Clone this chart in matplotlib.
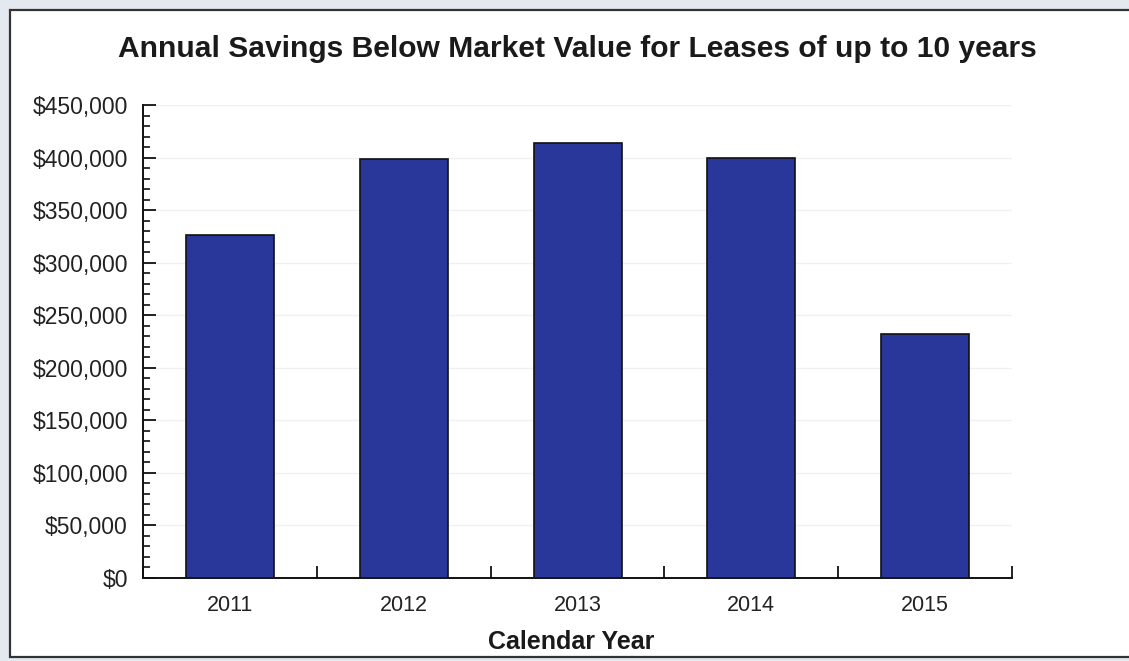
import matplotlib
matplotlib.use("Agg")
import matplotlib.pyplot as plt
from matplotlib.patches import Rectangle
from matplotlib.ticker import MultipleLocator, FuncFormatter

plt.rcParams['font.family'] = ['Liberation Sans', 'DejaVu Sans']

# Données
years = ['2011', '2012', '2013', '2014', '2015']
savings = [326000, 399000, 414000, 400000, 232000]

fig = plt.figure(figsize=(11.29, 6.61), dpi=100)
fig.patch.set_facecolor('#e4e9f0')

# cadre blanc autour du graphique
frame = Rectangle((0.009, 0.006), 1.0, 0.979, transform=fig.transFigure,
                  facecolor='white', edgecolor='#333333', lw=1.6, zorder=-1)
fig.patches.append(frame)

ax = fig.add_axes([0.1267, 0.1256, 0.7697, 0.7155])
ax.set_facecolor('white')

x = range(len(years))
ax.bar(x, savings, width=0.506, color='#29379a', edgecolor='#111111',
       linewidth=1.2, zorder=3)

ax.set_xlim(-0.5, len(years) - 0.5)
ax.set_ylim(0, 450000)

# axe y
ax.yaxis.set_major_locator(MultipleLocator(50000))
ax.yaxis.set_minor_locator(MultipleLocator(10000))
ax.yaxis.set_major_formatter(FuncFormatter(lambda v, p: f"${v:,.0f}"))
ax.tick_params(axis='y', which='major', direction='in', length=9, width=1.3,
               pad=11, labelsize=16.5, colors='#111111', labelcolor='#222222')
ax.tick_params(axis='y', which='minor', direction='in', length=5, width=1.2,
               colors='#111111')

# axe x : graduations entre catégories, étiquettes au centre
ax.set_xticks([i - 0.5 for i in range(len(years) + 1)])
ax.set_xticklabels([])
ax.set_xticks(list(x), minor=True)
ax.set_xticklabels(years, minor=True)
ax.tick_params(axis='x', which='major', direction='in', length=9, width=1.3,
               colors='#111111')
ax.tick_params(axis='x', which='minor', length=0, pad=12, labelsize=15.5,
               labelcolor='#222222')

for s in ['top', 'right']:
    ax.spines[s].set_visible(False)
for s in ['left', 'bottom']:
    ax.spines[s].set_linewidth(1.4)
    ax.spines[s].set_color('#111111')

ax.yaxis.grid(True, color='#f0f0f0', lw=1, zorder=0)

fig.text(0.511, 0.926, 'Annual Savings Below Market Value for Leases of up to 10 years',
         ha='center', va='center', fontsize=21.6, fontweight='bold', color='#1a1a1a')
fig.text(0.506, 0.029, 'Calendar Year', ha='center', va='center',
         fontsize=18, fontweight='bold', color='#1a1a1a')

fig.savefig('out.png', dpi=100, facecolor=fig.get_facecolor())
